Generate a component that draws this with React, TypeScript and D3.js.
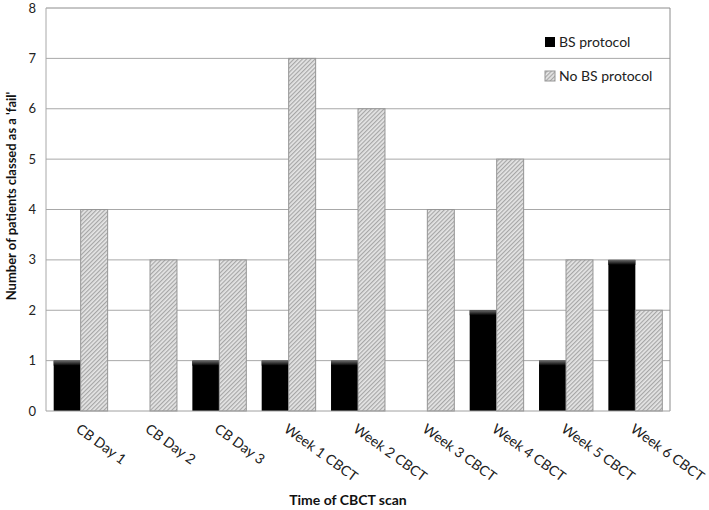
import React from "react";
import * as d3 from "d3";

const categories = ["CB Day 1", "CB Day 2", "CB Day 3", "Week 1 CBCT", "Week 2 CBCT", "Week 3 CBCT", "Week 4 CBCT", "Week 5 CBCT", "Week 6 CBCT"];
const bsValues = [1, 0, 1, 1, 1, 0, 2, 1, 3];
const noBsValues = [4, 3, 3, 7, 6, 4, 5, 3, 2];
const yTicks = [0, 1, 2, 3, 4, 5, 6, 7, 8];
const seriesNames = ["BS protocol", "No BS protocol"];

const W = 709, H = 510;
const L = 46, R = 670, T = 8, B = 411;
const FONT = "Lato, 'Open Sans', sans-serif";

export default function App() {
  const x = d3.scaleBand<string>().domain(categories).range([L, R]).paddingInner(0.222).paddingOuter(0.111);
  const x0 = d3.scaleBand<string>().domain(categories).range([L, R]);
  const y = d3.scaleLinear().domain([0, 8]).range([B, T]);
  const bw = x.bandwidth() / 2;

  return (
    <svg width={W} height={H} style={{ position: "absolute", left: 0, top: 0, background: "#fff" }} fontFamily={FONT}>
      <defs>
        <pattern id="hatch" width="3" height="3" patternUnits="userSpaceOnUse" patternTransform="rotate(45)">
          <rect width="3" height="3" fill="#e6e6e6" />
          <rect width="1.2" height="3" fill="#a6a6a6" />
        </pattern>
        <linearGradient id="topg" x1="0" y1="0" x2="0" y2="1">
          <stop offset="0" stopColor="#6a6a6a" />
          <stop offset="1" stopColor="#000" />
        </linearGradient>
      </defs>
      {yTicks.map((t) => (
        <g key={t}>
          {t > 0 && <line x1={L} x2={R} y1={y(t)} y2={y(t)} stroke={t === 8 ? "#8c8c8c" : "#a8a8a8"} strokeWidth={1} />}
          <text x={36} y={y(t)} dy="0.35em" textAnchor="end" fontSize={13} fill="#222">{t}</text>
        </g>
      ))}
      <line x1={R} x2={R} y1={T} y2={B} stroke="#8c8c8c" />
      <line x1={L} x2={L} y1={T} y2={B} stroke="#a8a8a8" />
      {categories.map((c, i) => {
        const gx = x(c)!;
        const vb = bsValues[i];
        const vn = noBsValues[i];
        return (
          <g key={c}>
            {vb > 0 && (
              <g>
                <rect x={gx} y={y(vb)} width={bw} height={B - y(vb)} fill="#000" />
                <rect x={gx} y={y(vb)} width={bw} height={5} fill="url(#topg)" />
              </g>
            )}
            {vn > 0 && (
              <rect x={gx + bw} y={y(vn)} width={bw} height={B - y(vn)} fill="url(#hatch)" stroke="#959595" strokeWidth={1} />
            )}
          </g>
        );
      })}
      <line x1={L} x2={R} y1={B} y2={B} stroke="#a0a0a0" />
      {categories.map((c) => {
        const cx = x0(c)! + x0.bandwidth() / 2;
        return (
          <text key={c} transform={`translate(${cx},${B + 12}) rotate(36)`} fontSize={14} fill="#222" dy="0.7em">{c}</text>
        );
      })}
      <text transform={`translate(16,196) rotate(-90)`} textAnchor="middle" fontSize={13} fontWeight="bold" fill="#111">Number of patients classed as a 'fail'</text>
      <text x={348} y={505} textAnchor="middle" fontSize={14} fontWeight="bold" fill="#111">Time of CBCT scan</text>
      {seriesNames.map((s, i) => (
        <g key={s} transform={`translate(550,${42 + i * 34})`}>
          <rect x={-5} y={-5} width={10} height={10} fill={i === 0 ? "#000" : "url(#hatch)"} stroke={i === 0 ? "none" : "#959595"} />
          <text x={9} dy="0.35em" fontSize={14} fill="#222">{s}</text>
        </g>
      ))}
    </svg>
  );
}
